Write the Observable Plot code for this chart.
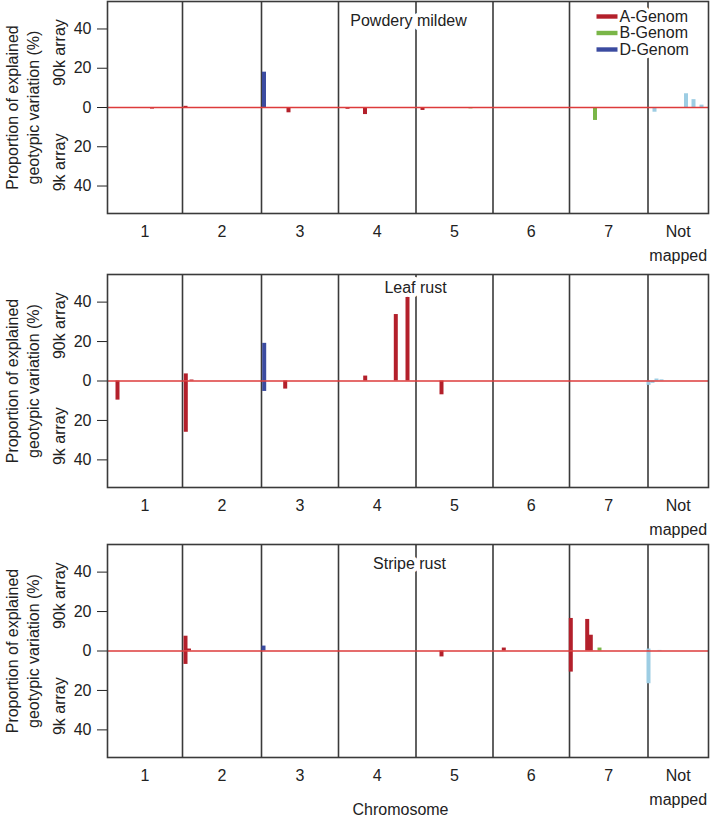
<!DOCTYPE html>
<html>
<head>
<meta charset="utf-8">
<script src="https://cdn.jsdelivr.net/npm/d3@7"></script>
<script src="https://cdn.jsdelivr.net/npm/@observablehq/plot@0.6"></script>
<style>
  body { margin: 0; background: #fff; }
  #chart { width: 711px; }
  #chart svg { display: block; }
</style>
</head>
<body>
<div id="chart"></div>
<script>
// ---------------- data ----------------
const chromosomes = ["1", "2", "3", "4", "5", "6", "7", "Not\nmapped"];
// cumulative map positions (arbitrary units) of chromosome starts / ends
const chromStart = [0, 75, 154, 231, 308.5, 385.5, 462, 540.5];
const chromEnd   = [75, 154, 231, 308.5, 385.5, 462, 540.5, 601];

const genomeKeys   = ["A", "B", "D", "U"];
const genomeColors = ["#b3202b", "#7ab648", "#3b4ba0", "#9dcde3"];
const legendLabels = ["A-Genom", "B-Genom", "D-Genom"];
const legendGenome = ["A", "B", "D"];

const yTicks = [-40, -20, 0, 20, 40];
const arrayLabels = ["90k array", "9k array"];
const arrayLabelY = [28, -28];
const yTitle = "Proportion of explained\ngeotypic variation (%)";
const xTitle = "Chromosome";
const xTitleX = 293;

const traitTitles = ["Powdery mildew", "Leaf rust", "Stripe rust"];
const traitTitleX = [301, 308, 302];

// positive = 90k array, negative = 9k array
const pmPos    = [44.5, 78, 181, 240, 257.5, 315, 363, 487.5, 156.5, 547, 578.5, 586, 594];
const pmGenome = ["A", "A", "A", "A", "A", "A", "B", "B", "D", "U", "U", "U", "U"];
const pmValue  = [-0.8, 0.6, -2.7, -0.9, -3.6, -1.5, -0.7, -6.6, 18, -2.4, 7, 4, 1.2];

const lrPos    = [10, 78.3, 78.3, 84, 177.7, 257.7, 288.3, 300, 334, 156.7, 156.7, 541, 545, 549, 554];
const lrGenome = ["A", "A", "A", "A", "A", "A", "A", "A", "A", "D", "D", "U", "U", "U", "U"];
const lrValue  = [-9.7, 3.6, -26, 0.5, -4.1, 2.5, 33.7, 43.4, -7, 19.1, -5.3, -2.2, -1.2, 1, 0.6];

const srPos    = [78, 78, 81.5, 334, 396.3, 463.3, 463.3, 479.7, 483.3, 492, 156, 541, 541, 552];
const srGenome = ["A", "A", "A", "A", "A", "A", "A", "A", "A", "B", "D", "U", "U", "U"];
const srValue  = [7.5, -6.8, 1, -3, 1.5, 16.5, -10.7, 16, 8, 1.5, 2.5, -16.6, 1, 0.3];

// ---------------- drawing ----------------
const FONT = "'Liberation Sans', Arial, Helvetica, sans-serif";
const INK = "#222";
const LINE = "#3a3a3a";

const swatch = {
  draw(ctx) {
    ctx.moveTo(-10.5, -2.2);
    ctx.lineTo(10.5, -2.2);
    ctx.lineTo(10.5, 2.2);
    ctx.lineTo(-10.5, 2.2);
    ctx.closePath();
  }
};

function panel({idx, pos, genome, value, marginTop, marginBottom, titleDy, legend, xtitle}) {
  const data = pos.map((p, i) => ({pos: p, genome: genome[i], value: value[i]}));
  const frameH = idx === 0 ? 212 : 213;
  const marks = [
    Plot.ruleX(chromStart.slice(1), {stroke: LINE, strokeWidth: 1.6}),
    Plot.ruleX(data, {x: "pos", y1: () => 0, y2: "value", stroke: "genome", strokeWidth: 4}),
    Plot.ruleY([0], {stroke: "#dd3b3b", strokeWidth: 1.3}),
    Plot.frame({stroke: LINE, strokeWidth: 1.6}),
    Plot.text(chromosomes, {
      x: (d, i) => (chromStart[i] + chromEnd[i]) / 2, text: d => d,
      frameAnchor: "bottom", lineAnchor: "top", dy: 6, lineHeight: 1.5,
      fontSize: 16, fill: INK
    }),
    Plot.text([yTitle], {
      text: d => d, y: () => 0, frameAnchor: "left", rotate: -90, dx: -86,
      textAnchor: "middle", lineAnchor: "middle", lineHeight: 1.3, fontSize: 16, fill: INK
    }),
    Plot.text(arrayLabels, {
      text: d => d, y: (d, i) => arrayLabelY[i], frameAnchor: "left", rotate: -90, dx: -47.5,
      textAnchor: "middle", lineAnchor: "middle", fontSize: 16, fill: INK
    }),
    Plot.text([traitTitles[idx]], {
      text: d => d, x: () => traitTitleX[idx], frameAnchor: "top", dy: titleDy,
      lineAnchor: "middle", fontSize: 16, fill: INK,
      stroke: "white", strokeWidth: 8, strokeLinejoin: "round"
    })
  ];
  if (legend) {
    legendLabels.forEach((lab, i) => {
      marks.push(Plot.text([lab], {
        text: d => d, frameAnchor: "top-right", dx: -89, dy: 15 + 16.5 * i,
        textAnchor: "start", lineAnchor: "middle", fontSize: 16, fill: INK,
        stroke: "white", strokeWidth: 8, strokeLinejoin: "round"
      }));
    });
    legendGenome.forEach((g, i) => {
      marks.push(Plot.dot([g], {
        fill: d => d, symbol: swatch, r: 3, frameAnchor: "top-right",
        dx: -101.5, dy: 15 + 16.5 * i, stroke: null
      }));
    });
  }
  if (xtitle) {
    marks.push(Plot.text([xTitle], {
      text: d => d, x: () => xTitleX, frameAnchor: "bottom", dy: 52,
      lineAnchor: "middle", fontSize: 16, fill: INK
    }));
  }
  return Plot.plot({
    width: 711,
    height: marginTop + frameH + marginBottom,
    marginTop, marginBottom,
    marginLeft: 107, marginRight: 3,
    style: {fontSize: "16px", fontFamily: FONT, color: INK, background: "#fff"},
    x: {domain: [0, 601], axis: null},
    y: {
      domain: [-54, 54], ticks: yTicks, tickFormat: d => Math.abs(d),
      tickSize: 10, tickPadding: 6, label: null
    },
    color: {domain: genomeKeys, range: genomeColors},
    marks
  });
}

const root = document.getElementById("chart");
root.append(panel({idx: 0, pos: pmPos, genome: pmGenome, value: pmValue, marginTop: 1, marginBottom: 52, titleDy: 19, legend: true}));
root.append(panel({idx: 1, pos: lrPos, genome: lrGenome, value: lrValue, marginTop: 9, marginBottom: 51, titleDy: 13}));
root.append(panel({idx: 2, pos: srPos, genome: srGenome, value: srValue, marginTop: 6, marginBottom: 67, titleDy: 19, xtitle: true}));
</script>
</body>
</html>
